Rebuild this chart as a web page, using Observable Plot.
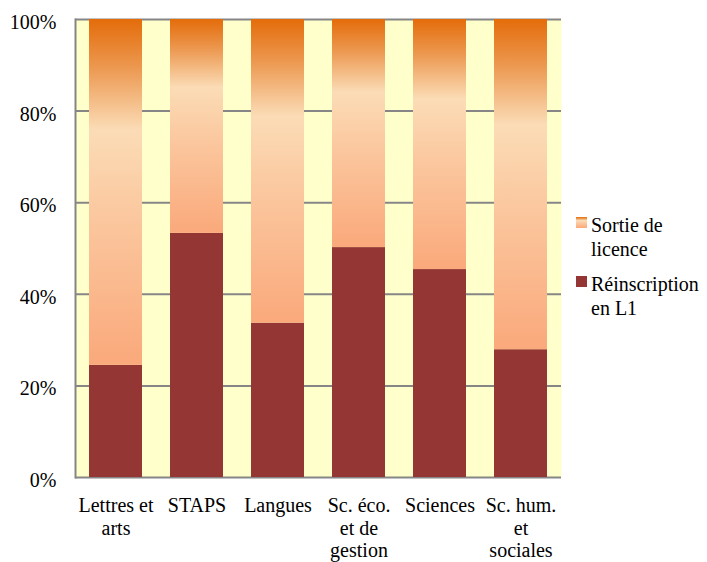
<!DOCTYPE html>
<html>
<head>
<meta charset="utf-8">
<script src="https://cdn.jsdelivr.net/npm/d3@7"></script>
<script src="https://cdn.jsdelivr.net/npm/@observablehq/plot@0.6"></script>
<style>
  html, body { margin: 0; padding: 0; background: #fff; }
  #chart { position: relative; width: 707px; height: 562px; }
</style>
</head>
<body>
<div id="chart"></div>
<script>
// ---- data ----
const categories = ["Lettres et\narts", "STAPS", "Langues", "Sc. éco.\net de\ngestion", "Sciences", "Sc. hum.\net\nsociales"];
const series = ["Réinscription en L1", "Sortie de licence"];
const reinscription = [24.5, 53.3, 33.7, 50.2, 45.4, 27.9];
const sortie = [75.5, 46.7, 66.3, 49.8, 54.6, 72.1];
const yTicks = [0, 20, 40, 60, 80, 100];
const legendLabels = [["Sortie de", "licence"], ["Réinscription", "en L1"]];

const data = categories.flatMap((c, i) => [
  {cat: c, serie: series[0], v: reinscription[i]},
  {cat: c, serie: series[1], v: sortie[i]}
]);

const RED = "#943634";
const ORANGE = "#FAA97B";
const FONT = "'Liberation Serif', serif";

const plot = Plot.plot({
  width: 707,
  height: 562,
  marginLeft: 75,
  marginRight: 146,
  marginTop: 19,
  marginBottom: 85,
  style: {fontFamily: FONT, fontSize: "20px", color: "#000", background: "#fff"},
  x: {type: "band", domain: categories, paddingInner: 0.345, paddingOuter: 0.1725, label: null},
  y: {domain: [0, 100], label: null},
  color: {domain: series, range: [RED, ORANGE]},
  marks: [
    Plot.frame({fill: "#FFFFCC"}),
    Plot.ruleY(yTicks, {stroke: "#868686", strokeWidth: 2}),
    Plot.barY(data, {x: "cat", y: "v", fill: "serie"}),
    Plot.frame({anchor: "left", stroke: "#868686", strokeWidth: 2}),
    Plot.axisY(yTicks, {tickSize: 0, tickPadding: 19, fontSize: 20, fontFamily: FONT, tickFormat: d => d + "%", label: null, dy: 3}),
    Plot.axisX({tickSize: 0, tickPadding: 19, fontSize: 20, fontFamily: FONT, lineHeight: 1.12, label: null})
  ]
});

document.getElementById("chart").appendChild(plot);

// gradient for the "Sortie de licence" bars
const svg = d3.select(plot);
const defs = svg.insert("defs", ":first-child");
const grad = defs.append("linearGradient").attr("id", "sortieGrad")
  .attr("x1", 0).attr("y1", 0).attr("x2", 0).attr("y2", 1);
[[0, "#E46C0A"], [0.14, "#EC9850"], [0.32, "#FBDCB6"], [0.6, "#FBC59C"], [1, "#FAA97B"]]
  .forEach(([o, c]) => grad.append("stop").attr("offset", o).attr("stop-color", c));

svg.selectAll("rect").each(function() {
  const f = (this.getAttribute("fill") || "").toLowerCase();
  if (f === ORANGE.toLowerCase()) this.setAttribute("fill", "url(#sortieGrad)");
});

// legend
const lg = svg.append("g")
  .attr("font-family", FONT).attr("font-size", 20).attr("fill", "#000")
  .attr("text-anchor", "start");
const legendFills = ["url(#sortieGrad)", RED];
const legendTop = [217, 276];
legendLabels.forEach((lines, i) => {
  lg.append("rect").attr("x", 576).attr("y", legendTop[i]).attr("width", 11).attr("height", 11)
    .attr("fill", legendFills[i]);
  lines.forEach((t, j) => {
    lg.append("text").attr("x", 591).attr("y", legendTop[i] + 15 + j * 24)
      .style("font-family", FONT).style("text-anchor", "start").text(t);
  });
});
</script>
</body>
</html>
